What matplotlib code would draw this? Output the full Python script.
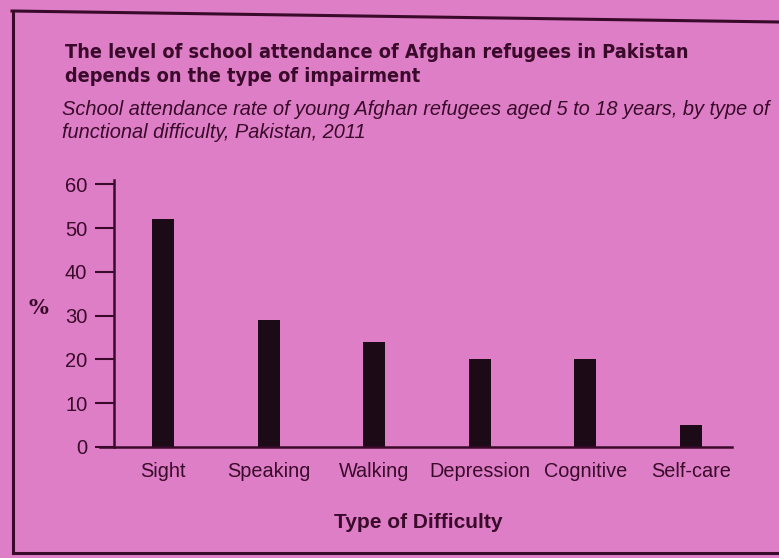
import matplotlib.pyplot as plt
from matplotlib.lines import Line2D

categories = ['Sight', 'Speaking', 'Walking', 'Depression', 'Cognitive', 'Self-care']
values = [52, 29, 24, 20, 20, 5]
yticks = [0, 10, 20, 30, 40, 50, 60]

bg = '#dd7ec6'
ink = '#3a0a2a'
bar_col = '#1c0a16'

W, H = 779, 558
fig = plt.figure(figsize=(W / 100, H / 100), dpi=100, facecolor=bg)

# frame around the chart (photo of a printed page)
fig.add_artist(Line2D([12 / W, 1.0], [1 - 11 / H, 1 - 22 / H], color=ink, lw=2.2))
fig.add_artist(Line2D([13 / W, 13 / W], [1 - 11 / H, 1 - 553 / H], color=ink, lw=2.2))
fig.add_artist(Line2D([13 / W, 1.0], [1 - 553 / H, 1 - 553 / H], color=ink, lw=2.2))

fig.text(65 / W, 1 - 43 / H,
         'The level of school attendance of Afghan refugees in Pakistan\n'
         'depends on the type of impairment',
         ha='left', va='top', fontsize=14.2, fontweight='bold', color=ink,
         family='DejaVu Sans', stretch='condensed', linespacing=1.3)
fig.text(62 / W, 1 - 100 / H,
         'School attendance rate of young Afghan refugees aged 5 to 18 years, by type of\n'
         'functional difficulty, Pakistan, 2011',
         ha='left', va='top', fontsize=14.4, style='italic', color=ink,
         family='Liberation Sans', linespacing=1.3)

ax = fig.add_axes([100 / W, 1 - 447 / H, 632 / W, 267 / H])
ax.set_facecolor('none')
x = list(range(len(categories)))
ax.bar(x, values, width=0.21, color=bar_col)

ax.set_xlim(-0.6, 5.39)
ax.set_ylim(0, 61)
for s in ['top', 'right']:
    ax.spines[s].set_visible(False)
ax.spines['left'].set_position(('data', -0.47))
ax.spines['left'].set_color(ink)
ax.spines['bottom'].set_color(ink)
ax.spines['left'].set_linewidth(1.8)
ax.spines['bottom'].set_linewidth(1.8)

ax.set_yticks(yticks)
ax.set_yticklabels([str(t) for t in yticks], family='Liberation Sans', fontsize=14.5, color=ink)
ax.tick_params(axis='y', length=14, width=1.5, color=ink, pad=5)
ax.set_xticks(x)
ax.set_xticklabels(categories, family='Liberation Sans', fontsize=14.3, color=ink)
ax.tick_params(axis='x', length=0, pad=11)

fig.text(38 / W, 1 - 308 / H, '%', ha='center', va='center', fontsize=15,
         color=ink, family='DejaVu Serif', fontweight='bold')
fig.text(418 / W, 1 - 523 / H, 'Type of Difficulty', ha='center', va='center',
         fontsize=15, fontweight='bold', color=ink, family='Liberation Sans')

fig.savefig('out.png', dpi=100, facecolor=bg)
